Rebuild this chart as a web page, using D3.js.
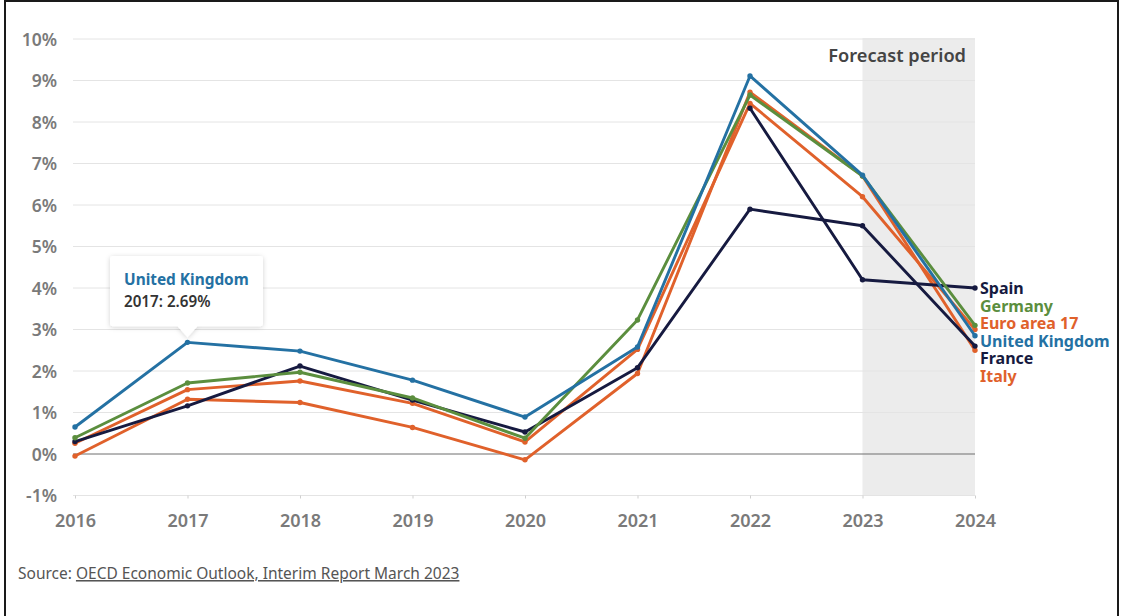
<!DOCTYPE html>
<html>
<head>
<meta charset="utf-8">
<script src="https://cdn.jsdelivr.net/npm/d3@7"></script>
<style>
  html, body { margin: 0; padding: 0; background: #fff; }
  svg { display: block; font-family: "Noto Sans", "Open Sans", sans-serif; }
</style>
</head>
<body>
<svg id="chart" width="1123" height="616"></svg>
<script>
// Headline inflation, annual %, OECD Interim Economic Outlook (March 2023)
const years = [2016, 2017, 2018, 2019, 2020, 2021, 2022, 2023, 2024];
const yTicks = [-1, 0, 1, 2, 3, 4, 5, 6, 7, 8, 9, 10];
const forecastStart = 2023;

const italy      = [-0.05, 1.32, 1.24, 0.64, -0.14, 1.94, 8.72, 6.7, 2.5];
const euroArea   = [0.26, 1.55, 1.76, 1.22, 0.29, 2.52, 8.45, 6.2, 3.0];
const spain      = [null, null, null, null, null, null, 8.33, 4.2, 4.0];
const france     = [0.30, 1.16, 2.12, 1.30, 0.53, 2.08, 5.9, 5.5, 2.6];
const germany    = [0.39, 1.71, 1.97, 1.35, 0.38, 3.23, 8.65, 6.7, 3.1];
const uk         = [0.65, 2.69, 2.48, 1.78, 0.89, 2.58, 9.11, 6.72, 2.85];

const seriesNames  = ["Italy", "Euro area 17", "Spain", "France", "Germany", "United Kingdom"];
const seriesValues = [italy, euroArea, spain, france, germany, uk];
const seriesColors = ["#e0612b", "#e0612b", "#161a40", "#161a40", "#5b8e3e", "#2471a3"];

// End-of-line labels, top to bottom
const labelOrder = ["Spain", "Germany", "Euro area 17", "United Kingdom", "France", "Italy"];

const tooltipSeries = "United Kingdom";
const tooltipYear = 2017;

const svg = d3.select("#chart");

// Outer frame
svg.append("rect")
  .attr("x", 5).attr("y", 1).attr("width", 1113).attr("height", 625)
  .attr("fill", "none").attr("stroke", "#1a1a1a").attr("stroke-width", 2);

const x = d3.scalePoint().domain(years).range([75, 975]);
const y = d3.scaleLinear().domain([-1, 10]).range([495.5, 39]);

// Forecast shading
svg.append("rect")
  .attr("x", x(forecastStart)).attr("y", y(10) - 1)
  .attr("width", x(years[years.length - 1]) - x(forecastStart))
  .attr("height", y(-1) - y(10) + 1)
  .attr("fill", "#ececec");

svg.append("text")
  .attr("x", x(years[years.length - 1]) - 9).attr("y", 62)
  .attr("text-anchor", "end")
  .attr("font-size", 18.2).attr("font-weight", 600).attr("fill", "#444")
  .text("Forecast period");

// Horizontal grid
svg.append("g").selectAll("line").data(yTicks).join("line")
  .attr("x1", 73).attr("x2", x(years[years.length - 1]))
  .attr("y1", d => y(d)).attr("y2", d => y(d))
  .attr("stroke", d => d === 0 ? "#6e6e6e" : "#e4e4e4")
  .attr("stroke-width", 1);

// Y axis
const yAxis = d3.axisLeft(y).tickValues(yTicks).tickSize(0).tickPadding(0)
  .tickFormat(d => d + "%");
svg.append("g").attr("transform", "translate(57,0)").call(yAxis)
  .call(g => g.select(".domain").remove())
  .call(g => g.selectAll("text")
    .attr("font-family", "'Noto Sans', sans-serif")
    .attr("font-size", 17.5).attr("font-weight", 600).attr("fill", "#7a7a7a")
    .attr("dy", "0.35em"));

// X axis
const xAxis = d3.axisBottom(x).tickSize(3).tickPadding(16).tickFormat(d3.format("d"));
svg.append("g").attr("transform", `translate(0,${y(-1)})`).call(xAxis)
  .call(g => g.select(".domain").remove())
  .call(g => g.selectAll("line").attr("stroke", "#cfcfcf"))
  .call(g => g.selectAll("text")
    .attr("font-family", "'Noto Sans', sans-serif")
    .attr("font-size", 18).attr("font-weight", 600).attr("fill", "#7a7a7a"));

// Lines and point markers
const line = d3.line()
  .defined(d => d.v !== null)
  .x(d => x(d.year)).y(d => y(d.v));

const series = seriesNames.map((name, i) => ({
  name,
  color: seriesColors[i],
  points: years.map((year, j) => ({ year, v: seriesValues[i][j] }))
}));

const lines = svg.append("g");
series.forEach(s => {
  lines.append("path")
    .datum(s.points)
    .attr("d", line)
    .attr("fill", "none")
    .attr("stroke", s.color)
    .attr("stroke-width", 2.9)
    .attr("stroke-linejoin", "round");
  lines.append("g").selectAll("circle")
    .data(s.points.filter(p => p.v !== null)).join("circle")
    .attr("cx", p => x(p.year)).attr("cy", p => y(p.v))
    .attr("r", 2.7).attr("fill", s.color);
});

// End labels
const labelY0 = 294, labelStep = 17.6;
svg.append("g").selectAll("text").data(labelOrder).join("text")
  .attr("x", x(years[years.length - 1]) + 5)
  .attr("y", (d, i) => labelY0 + i * labelStep)
  .attr("font-size", 16).attr("font-weight", 700)
  .attr("fill", d => seriesColors[seriesNames.indexOf(d)])
  .text(d => d);

// Tooltip on the highlighted point
const defs = svg.append("defs");
const shadow = defs.append("filter").attr("id", "tipShadow")
  .attr("x", "-20%").attr("y", "-20%").attr("width", "140%").attr("height", "150%");
shadow.append("feDropShadow")
  .attr("dx", 0).attr("dy", 1).attr("stdDeviation", 2.5)
  .attr("flood-color", "#000").attr("flood-opacity", 0.18);

const tipIdx = seriesNames.indexOf(tooltipSeries);
const tipVal = seriesValues[tipIdx][years.indexOf(tooltipYear)];
const px = x(tooltipYear), py = y(tipVal);
const bx0 = 110, bx1 = 263, by0 = 256, by1 = py - 16, r = 3;
const tipPath = d3.path();
tipPath.moveTo(bx0 + r, by0);
tipPath.lineTo(bx1 - r, by0);
tipPath.quadraticCurveTo(bx1, by0, bx1, by0 + r);
tipPath.lineTo(bx1, by1 - r);
tipPath.quadraticCurveTo(bx1, by1, bx1 - r, by1);
tipPath.lineTo(px + 10, by1);
tipPath.lineTo(px, py - 5);
tipPath.lineTo(px - 10, by1);
tipPath.lineTo(bx0 + r, by1);
tipPath.quadraticCurveTo(bx0, by1, bx0, by1 - r);
tipPath.lineTo(bx0, by0 + r);
tipPath.quadraticCurveTo(bx0, by0, bx0 + r, by0);
tipPath.closePath();

const tip = svg.append("g");
tip.append("path").attr("d", tipPath.toString())
  .attr("fill", "#fff").attr("filter", "url(#tipShadow)");
tip.append("text").attr("x", 124).attr("y", 285)
  .attr("font-size", 15.4).attr("font-weight", 700)
  .attr("fill", seriesColors[tipIdx]).text(tooltipSeries);
tip.append("text").attr("x", 124).attr("y", 307)
  .attr("font-size", 15.2).attr("font-weight", 600).attr("fill", "#333")
  .text(`${tooltipYear}: ${tipVal.toFixed(2)}%`);

// Source note
const src = svg.append("text").attr("x", 18).attr("y", 579)
  .attr("font-size", 15.5).attr("fill", "#555");
src.append("tspan").text("Source: ");
src.append("tspan").attr("text-decoration", "underline")
  .text("OECD Economic Outlook, Interim Report March 2023");
</script>
</body>
</html>
